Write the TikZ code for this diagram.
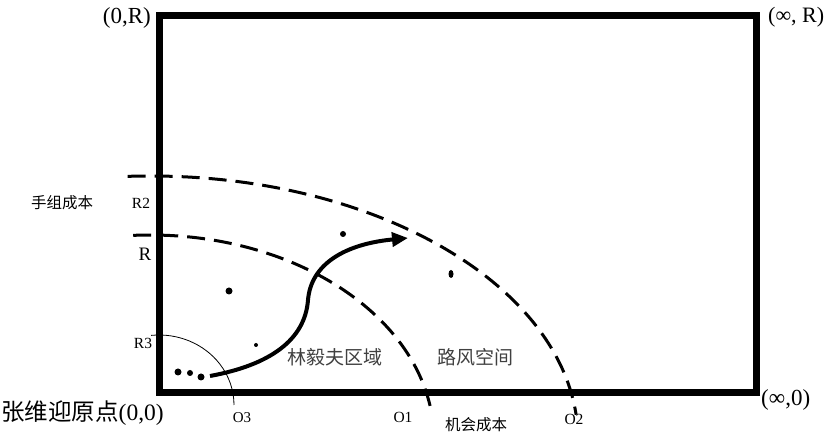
\documentclass[tikz,border=0pt]{standalone}
\usepackage{fontspec}
\setmainfont{Liberation Serif}
\newfontfamily\cjk{Noto Sans CJK SC}
\usetikzlibrary{arrows.meta}
\begin{document}
\begin{tikzpicture}[x=1pt,y=1pt,
  frame/.style={line width=7pt},
  bound/.style={line width=3pt, dash pattern=on 18pt off 9pt},
  dotf/.style={fill=black},
  lbl/.style={inner sep=0pt},
  pathline/.style={line width=4pt, -{Triangle[length=16pt,width=14pt]}}]
\useasboundingbox (0,0) rectangle (836,436);
% frame
\draw[frame] (159,43) rectangle (756,420);
% corner labels
\node[lbl, anchor=east, font=\fontsize{23}{23}\selectfont] (c0R) at (151,418) {(0,R)};
\node[lbl, anchor=west, font=\fontsize{22}{22}\selectfont] (ciR) at (768,419) {(∞, R)};
\node[lbl, anchor=west, font=\fontsize{23}{23}\selectfont] (ci0) at (761,36) {(∞,0)};
\node[lbl, anchor=west, font=\fontsize{23.5}{23.5}\selectfont] (c00) at (1,23) {{\cjk 张维迎原点}(0,0)};
% dashed boundaries
\draw[bound] (150,-4) ++(93:426pt and 264pt) arc[start angle=93, end angle=5.5, x radius=428pt, y radius=264pt];
\draw[bound] (150,-4) ++(93.4:283pt and 205pt) arc[start angle=93.4, end angle=9.5, x radius=284pt, y radius=205pt];
% small arc
\draw[line width=0.8pt] (159,31) ++(96:75pt and 70pt) arc[start angle=96, end angle=0, x radius=75pt, y radius=70pt];
% axis labels
\node[lbl, font=\fontsize{15.5}{15.5}\selectfont\cjk] (tc) at (62,233) {手组成本};
\node[lbl, font=\fontsize{15.5}{15.5}\selectfont] (r2) at (141,233) {R2};
\node[lbl, font=\fontsize{19}{19}\selectfont] (r1) at (145,182) {R};
\node[lbl, font=\fontsize{15.5}{15.5}\selectfont] (r3) at (143,93) {R3};
\node[lbl, font=\fontsize{15}{15}\selectfont] (o3) at (242,18) {O3};
\node[lbl, font=\fontsize{15.5}{15.5}\selectfont] (o1) at (403,19) {O1};
\node[lbl, font=\fontsize{15.5}{15.5}\selectfont\cjk] (oc) at (476,11) {机会成本};
\node[lbl, font=\fontsize{15.5}{15.5}\selectfont] (o2) at (574,17) {O2};
% region labels
\node[lbl, font=\fontsize{19}{19}\selectfont\cjk, text=black!75] (lin) at (335,79) {林毅夫区域};
\node[lbl, font=\fontsize{19}{19}\selectfont\cjk, text=black!75] (lu) at (475,79) {路风空间};
% dots
\fill[dotf] (178,64) circle (3.5pt);
\fill[dotf] (190,63) circle (3pt);
\fill[dotf] (201,59) circle (3.5pt);
\fill[dotf] (229,145) circle (3.5pt);
\fill[dotf] (256,91) circle (2pt);
\fill[dotf] (343,202) circle (3pt);
\fill[dotf] (451,162) ellipse (2.5pt and 4pt);
% path arrow
\coordinate (ps) at (210,60);
\coordinate (pm) at (308,136);
\coordinate (pe) at (408,198);
\draw[pathline] (ps) .. controls (270,71) and (305,96) .. (pm) .. controls (311,172) and (345,192) .. (pe);
\end{tikzpicture}
\end{document}
